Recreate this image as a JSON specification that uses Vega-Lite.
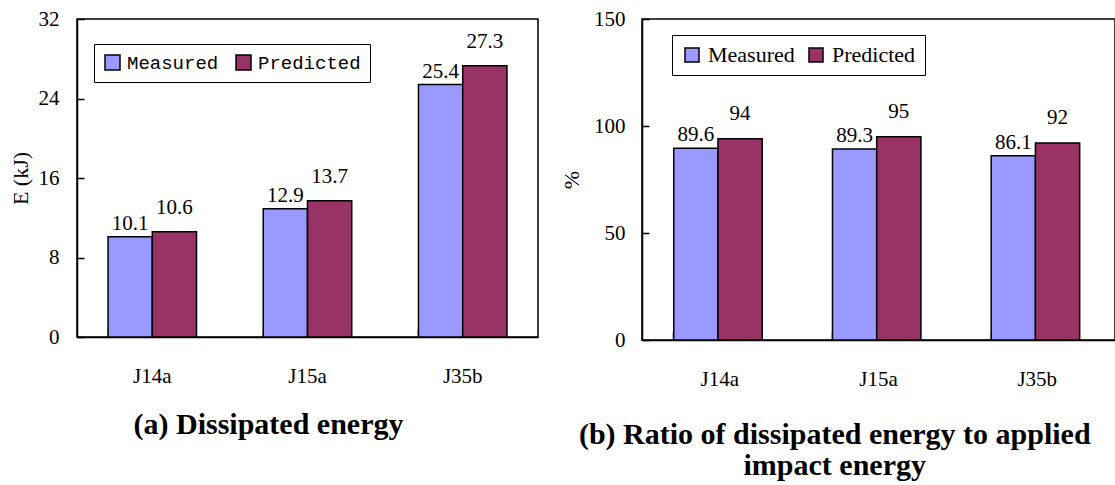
{
  "$schema": "https://vega.github.io/schema/vega-lite/v6.json",
  "padding": {"left": 8, "top": 7, "right": 1, "bottom": 0},
  "spacing": 20,
  "background": "white",
  "config": {
    "font": "Liberation Serif",
    "view": {"stroke": "black", "strokeWidth": 1.5},
    "axis": {
      "domainColor": "black", "domainWidth": 1.5, "tickColor": "black", "tickWidth": 1.5,
      "labelColor": "black", "labelFont": "Liberation Serif", "labelFontSize": 21,
      "titleColor": "black", "titleFont": "Liberation Serif", "titleFontSize": 22, "titleFontWeight": "normal",
      "grid": false
    },
    "title": {"font": "Liberation Serif", "fontSize": 30, "fontWeight": "bold", "color": "black", "orient": "bottom", "anchor": "middle", "lineHeight": 31},
    "text": {"font": "Liberation Serif", "fontSize": 21, "color": "black"}
  },
  "resolve": {"scale": {"color": "independent"}, "legend": {"color": "independent"}},
  "hconcat": [
    {
      "width": 461, "height": 318,
      "title": {"text": "(a)  Dissipated energy", "offset": 24, "frame": "bounds", "dx": -5},
      "data": {"values": [
        {"sample": "J14a", "series": "Measured", "value": 10.1},
        {"sample": "J14a", "series": "Predicted", "value": 10.6},
        {"sample": "J15a", "series": "Measured", "value": 12.9},
        {"sample": "J15a", "series": "Predicted", "value": 13.7},
        {"sample": "J35b", "series": "Measured", "value": 25.4},
        {"sample": "J35b", "series": "Predicted", "value": 27.3}
      ]},
      "encoding": {
        "x": {"field": "sample", "type": "nominal", "scale": {"paddingInner": 0.43}, "axis": {"title": null, "labelAngle": 0, "bandPosition": 0, "tickSize": -8, "labelPadding": 36, "labelFont": "Liberation Serif", "labelFontSize": 21, "labelColor": "black"}},
        "xOffset": {"field": "series", "type": "nominal"},
        "y": {"field": "value", "type": "quantitative", "scale": {"domain": [0, 32], "nice": false}, "axis": {"values": [0, 8, 16, 24, 32], "title": "E (kJ)", "tickSize": -7, "labelPadding": 25, "titlePadding": 6, "labelFont": "Liberation Serif", "labelFontSize": 21, "labelColor": "black", "titleFont": "Liberation Serif", "titleFontSize": 22, "titleFontWeight": "normal", "titleColor": "black"}}
      },
      "layer": [
        {
          "mark": {"type": "bar", "stroke": "black", "strokeWidth": 1.5},
          "encoding": {
            "color": {"field": "series", "type": "nominal", "scale": {"domain": ["Measured", "Predicted"], "range": ["#9999FF", "#993366"]},
              "legend": {"title": null, "orient": "none", "direction": "horizontal", "legendX": 17, "legendY": 25,
                "symbolType": "square", "symbolSize": 225, "symbolStrokeColor": "black", "symbolStrokeWidth": 1.5, "symbolOpacity": 1,
                "labelFont": "Liberation Mono", "labelFontSize": 19, "labelColor": "black", "labelOffset": 5, "columnPadding": 14,
                "strokeColor": "black", "fillColor": "white", "padding": 9}}
          }
        },
        {
          "transform": [{"filter": "datum.series === 'Measured'"}],
          "mark": {"type": "text", "baseline": "alphabetic", "dy": -7, "font": "Liberation Serif", "fontSize": 21, "color": "black"},
          "encoding": {"text": {"field": "value", "type": "quantitative", "format": ".1f"}}
        },
        {
          "transform": [{"filter": "datum.series === 'Predicted'"}],
          "mark": {"type": "text", "baseline": "alphabetic", "dy": -18, "font": "Liberation Serif", "fontSize": 21, "color": "black"},
          "encoding": {"text": {"field": "value", "type": "quantitative", "format": ".1f"}}
        }
      ]
    },
    {
      "width": 473, "height": 321,
      "title": {"text": ["(b) Ratio of dissipated energy  to applied", "impact energy"], "offset": 31, "frame": "bounds", "dx": -3},
      "data": {"values": [
        {"sample": "J14a", "series": "Measured", "value": 89.6},
        {"sample": "J14a", "series": "Predicted", "value": 94},
        {"sample": "J15a", "series": "Measured", "value": 89.3},
        {"sample": "J15a", "series": "Predicted", "value": 95},
        {"sample": "J35b", "series": "Measured", "value": 86.1},
        {"sample": "J35b", "series": "Predicted", "value": 92}
      ]},
      "encoding": {
        "x": {"field": "sample", "type": "nominal", "scale": {"paddingInner": 0.42}, "axis": {"title": null, "labelAngle": 0, "bandPosition": 0, "tickSize": -8, "labelPadding": 36, "labelFont": "Liberation Serif", "labelFontSize": 21, "labelColor": "black"}},
        "xOffset": {"field": "series", "type": "nominal"},
        "y": {"field": "value", "type": "quantitative", "scale": {"domain": [0, 150], "nice": false}, "axis": {"values": [0, 50, 100, 150], "title": "%", "tickSize": -7, "labelPadding": 24, "titlePadding": 10, "labelFont": "Liberation Serif", "labelFontSize": 21, "labelColor": "black", "titleFont": "Liberation Serif", "titleFontSize": 22, "titleFontWeight": "normal", "titleColor": "black"}}
      },
      "layer": [
        {
          "mark": {"type": "bar", "stroke": "black", "strokeWidth": 1.5},
          "encoding": {
            "color": {"field": "series", "type": "nominal", "scale": {"domain": ["Measured", "Predicted"], "range": ["#9999FF", "#993366"]},
              "legend": {"title": null, "orient": "none", "direction": "horizontal", "legendX": 30, "legendY": 16,
                "symbolType": "square", "symbolSize": 196, "symbolStrokeColor": "black", "symbolStrokeWidth": 1.5, "symbolOpacity": 1,
                "labelFont": "Liberation Serif", "labelFontSize": 22, "labelColor": "black", "labelOffset": 5, "columnPadding": 10,
                "strokeColor": "black", "fillColor": "white", "padding": 9}}
          }
        },
        {
          "transform": [{"filter": "datum.series === 'Measured'"}],
          "mark": {"type": "text", "baseline": "alphabetic", "dy": -7, "font": "Liberation Serif", "fontSize": 21, "color": "black"},
          "encoding": {"text": {"field": "value", "type": "quantitative", "format": ".1f"}}
        },
        {
          "transform": [{"filter": "datum.series === 'Predicted'"}],
          "mark": {"type": "text", "baseline": "alphabetic", "dy": -19, "font": "Liberation Serif", "fontSize": 21, "color": "black"},
          "encoding": {"text": {"field": "value", "type": "quantitative"}}
        }
      ]
    }
  ]
}
